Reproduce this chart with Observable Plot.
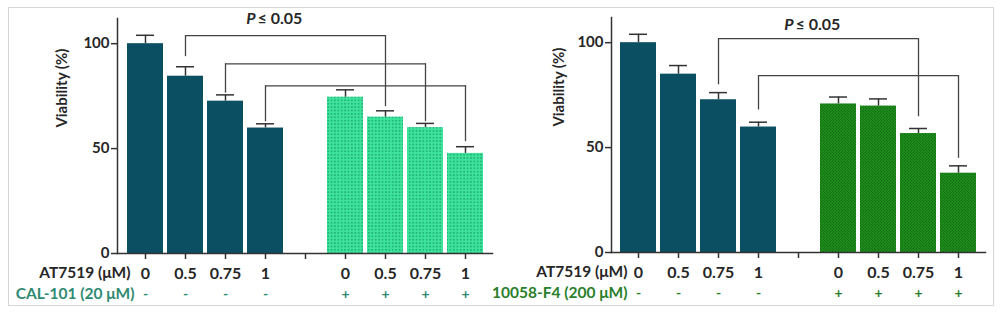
<!DOCTYPE html>
<html><head><meta charset="utf-8">
<script src="https://cdn.jsdelivr.net/npm/d3@7"></script>
<script src="https://cdn.jsdelivr.net/npm/@observablehq/plot@0.6"></script>
<style>
body{margin:0;background:#fff;}
#wrap{position:relative;width:1000px;height:313px;overflow:hidden;font-family:Lato,sans-serif;}
#frame{position:absolute;left:8px;top:7px;width:986px;height:299px;border:1px solid #d6d6d6;box-sizing:border-box;}
.panel{position:absolute;top:0;}
</style></head><body>
<div id="wrap"><div id="frame"></div><div id="left" class="panel" style="left:0"></div><div id="right" class="panel" style="left:500px"></div></div>
<script>
// ---- categories / labels ----
const slots = [0, 1, 2, 3, 4, 5, 6, 7, 8];
const doseLabels = ["0", "0.5", "0.75", "1", "", "0", "0.5", "0.75", "1"];
const signLabels = ["-", "-", "-", "-", "", "+", "+", "+", "+"];
const groupOf = ["alone", "alone", "alone", "alone", null, "combo", "combo", "combo", "combo"];
const yTicks = [0, 50, 100];

// ---- left panel (CAL-101) ----
const leftViability = [100, 84.5, 72.6, 59.8, null, 74.5, 65, 60, 47.7];
const leftError = [4, 4.5, 3, 2, null, 3.5, 3, 2, 3.2];
const leftBracketFrom = [1, 2, 3];
const leftBracketTo = [6, 7, 8];
const leftBracketLevel = [103.8, 90.4, 79.9];
const leftBracketFromEnd = [93.8, 76.4, 62.8];
const leftBracketToEnd = [70, 62.8, 53.3];

// ---- right panel (10058-F4) ----
const rightViability = [100, 85, 72.8, 59.8, null, 70.8, 69.8, 56.7, 37.8];
const rightError = [4, 4.1, 3.4, 2.3, null, 3.3, 3.4, 2.4, 3.5];
const rightBracketFrom = [2, 3];
const rightBracketTo = [7, 8];
const rightBracketLevel = [101.9, 84.3];
const rightBracketFromEnd = [79.9, 67.9];
const rightBracketToEnd = [64.7, 44.9];

const darkFill = "#0b4f63";

function addPatterns(svg) {
  const defs = d3.select(svg).insert("defs", ":first-child");
  const p1 = defs.append("pattern").attr("id", "mintDots").attr("patternUnits", "userSpaceOnUse")
    .attr("width", 3.4).attr("height", 3.4);
  p1.append("rect").attr("width", 3.4).attr("height", 3.4).attr("fill", "#3de39c");
  p1.append("circle").attr("cx", 1.7).attr("cy", 1.7).attr("r", 0.8).attr("fill", "#1a9f66");
  const p2 = defs.append("pattern").attr("id", "greenCheck").attr("patternUnits", "userSpaceOnUse")
    .attr("width", 3).attr("height", 3);
  p2.append("rect").attr("width", 3).attr("height", 3).attr("fill", "#22931f");
  p2.append("circle").attr("cx", 0.75).attr("cy", 0.75).attr("r", 0.7).attr("fill", "#0b5f0b");
  p2.append("circle").attr("cx", 2.25).attr("cy", 2.25).attr("r", 0.7).attr("fill", "#0b5f0b");
}

function panel(o) {
  const data = slots.filter(i => o.viability[i] != null).map(i => ({slot: i, v: o.viability[i], e: o.error[i], g: groupOf[i]}));
  const brackets = o.from.map((f, k) => ({from: f, to: o.to[k], level: o.level[k], fromEnd: o.fromEnd[k], toEnd: o.toEnd[k]}));
  const labels = slots.map(i => ({slot: i, dose: doseLabels[i], sign: signLabels[i]}));
  const ink = "#262626";
  const svg = Plot.plot({
    width: 500, height: 313,
    marginTop: o.mt, marginBottom: o.mb, marginLeft: o.ml, marginRight: o.mr,
    style: {fontFamily: "Lato, sans-serif", fontWeight: "bold", background: "transparent", overflow: "visible", color: ink},
    x: {type: "band", domain: slots, paddingInner: 0.1, paddingOuter: 0.225, axis: null},
    y: {domain: [0, 112], axis: null},
    marks: [
      Plot.barY(data.filter(d => d.g === "alone"), {x: "slot", y: "v", fill: darkFill}),
      Plot.barY(data.filter(d => d.g === "combo"), {x: "slot", y: "v", fill: o.comboFill}),
      Plot.ruleX(data, {x: "slot", y1: "v", y2: d => d.v + d.e, stroke: "#333", strokeWidth: 1.5}),
      Plot.tickY(data, {x: "slot", y: d => d.v + d.e, stroke: "#333", strokeWidth: 1.5, insetLeft: 9, insetRight: 9}),
      Plot.ruleX(brackets, {x: "from", y1: "fromEnd", y2: "level", stroke: "#444", strokeWidth: 1.3}),
      Plot.ruleX(brackets, {x: "to", y1: "toEnd", y2: "level", stroke: "#444", strokeWidth: 1.3}),
      Plot.line(brackets.flatMap((b, k) => [{x: b.from, y: b.level, k}, {x: b.to, y: b.level, k}]), {x: "x", y: "y", z: "k", stroke: "#444", strokeWidth: 1.3}),
      Plot.frame({anchor: "left", stroke: "#333", strokeWidth: 1.5}),
      Plot.frame({anchor: "bottom", stroke: "#333", strokeWidth: 1.5}),
      Plot.axisY({ticks: yTicks, tickSize: 6, tickPadding: 2, fontSize: 15, label: null, stroke: "#333", strokeWidth: 1.5, color: ink}),
      Plot.axisX({ticks: slots, tickSize: 6, tickFormat: () => "", label: null, stroke: "#333", strokeWidth: 1.5}),
      Plot.text(labels, {x: "slot", text: "dose", frameAnchor: "bottom", dy: 20, lineAnchor: "middle", fontSize: 16, fill: ink}),
      Plot.text(labels, {x: "slot", text: "sign", frameAnchor: "bottom", dy: 41, lineAnchor: "middle", fontSize: 14, fill: o.rowColor}),
      Plot.text(["AT7519 (μM)"], {x: [0], text: d => d, frameAnchor: "bottom", dy: 20, dx: o.atDx, textAnchor: "end", lineAnchor: "middle", fontSize: 15.5, fill: ink}),
      Plot.text([o.rowLabel], {x: [0], text: d => d, frameAnchor: "bottom", dy: 41, dx: o.rowDx, textAnchor: "end", lineAnchor: "middle", fontSize: 15.5, fill: o.rowColor}),
      Plot.text(["Viability (%)"], {y: [o.titleY], text: d => d, frameAnchor: "left", dx: o.titleDx, rotate: -90, lineAnchor: "middle", fontSize: 15, fill: ink}),
      Plot.text(["P"], {x: [o.pSlot], y: [o.pY], text: d => d, dx: o.pDx, textAnchor: "end", lineAnchor: "middle", fontSize: 16, fontStyle: "italic", fill: ink}),
      Plot.text(["≤ 0.05"], {x: [o.pSlot], y: [o.pY], text: d => d, dx: o.pDx + 2, textAnchor: "start", lineAnchor: "middle", fontSize: 16, fill: ink})
    ]
  });
  addPatterns(svg);
  return svg;
}

document.getElementById("left").append(panel({
  viability: leftViability, error: leftError,
  from: leftBracketFrom, to: leftBracketTo, level: leftBracketLevel, fromEnd: leftBracketFromEnd, toEnd: leftBracketToEnd,
  comboFill: "url(#mintDots)", rowLabel: "CAL-101 (20 μM)", rowColor: "#2f8a72",
  mt: 18, mb: 60, ml: 117, mr: 8, atDx: -15, rowDx: -11, titleY: 60, titleDx: -55,
  pSlot: 3, pY: 112, pDx: -10
}));
document.getElementById("right").append(panel({
  viability: rightViability, error: rightError,
  from: rightBracketFrom, to: rightBracketTo, level: rightBracketLevel, fromEnd: rightBracketFromEnd, toEnd: rightBracketToEnd,
  comboFill: "url(#greenCheck)", rowLabel: "10058-F4 (200 μM)", rowColor: "#2a7f2a",
  mt: 17, mb: 61, ml: 111, mr: 15, atDx: -11, rowDx: -11, titleY: 60, titleDx: -52,
  pSlot: 4, pY: 108.6, pDx: -5
}));
</script>
</body></html>
